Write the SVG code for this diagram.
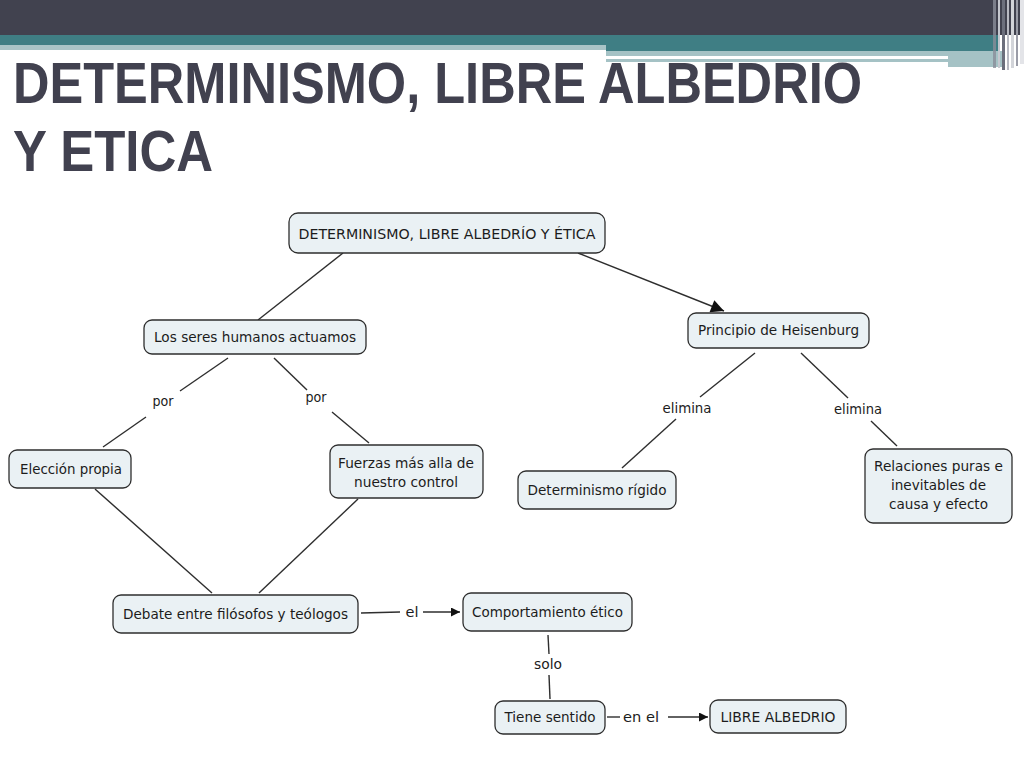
<svg xmlns="http://www.w3.org/2000/svg" width="1024" height="768" viewBox="0 0 1024 768">
<defs>
<style>
.node rect{fill:#eaf1f4;stroke:#2e2e2e;stroke-width:1.3}
.node text,.lbl{font-family:"DejaVu Sans","Liberation Sans",sans-serif;font-size:14px;fill:#1c1c1c;text-anchor:middle}
.conn line{stroke:#2e2e2e;stroke-width:1.4}
.title{font-family:"Liberation Sans","DejaVu Sans",sans-serif;font-weight:bold;font-size:57px;fill:#41414f}
</style>
<marker id="arr" viewBox="0 0 10 10" refX="10" refY="5" markerWidth="9" markerHeight="9" markerUnits="userSpaceOnUse" orient="auto">
<path d="M0,0 L10,5 L0,10 z" fill="#111"/>
</marker>
<marker id="arr2" viewBox="0 0 10 10" refX="10" refY="5" markerWidth="14" markerHeight="13" markerUnits="userSpaceOnUse" orient="auto">
<path d="M0,0 L10,5 L0,10 z" fill="#111"/>
</marker>
</defs>
<rect width="1024" height="768" fill="#ffffff"/>
<g id="header">
<rect x="0" y="0" width="1024" height="35" fill="#41424f"/>
<rect x="0" y="35" width="1000" height="11" fill="#3f7e84"/>
<rect x="0" y="45" width="606" height="5" fill="#a9c4c7"/>
<rect x="606" y="45" width="394" height="6" fill="#3f7e84"/>
<rect x="606" y="51" width="398" height="11" fill="#a5c2c5"/>
<rect x="948" y="62" width="56" height="5" fill="#a5c2c5"/>
<rect x="606" y="56" width="342" height="3" fill="#ffffff"/>
<rect x="993" y="0" width="3" height="68" fill="#8a8d99" opacity="0.8"/>
<rect x="998" y="0" width="2" height="68" fill="#c6c8cf"/>
<rect x="1002" y="0" width="3" height="70" fill="#6c6f7c"/>
<rect x="1007" y="0" width="2" height="70" fill="#b8bac2"/>
<rect x="1011" y="0" width="3" height="68" fill="#d2d4d9"/>
<rect x="1016" y="0" width="2" height="66" fill="#9a9ca7"/>
<rect x="1020" y="0" width="4" height="64" fill="#e3e4e8"/>
</g>
<g id="title">
<text class="title" x="13" y="103" textLength="849" lengthAdjust="spacingAndGlyphs">DETERMINISMO, LIBRE ALBEDRIO</text>
<text class="title" x="13" y="171" textLength="200" lengthAdjust="spacingAndGlyphs">Y ETICA</text>
</g>
<g id="connectors" class="conn">
<line x1="343" y1="253" x2="258" y2="320"/>
<line x1="578" y1="253" x2="724" y2="311" marker-end="url(#arr2)"/>
<line x1="228" y1="358" x2="180" y2="391"/>
<line x1="146" y1="417" x2="103" y2="447"/>
<line x1="274" y1="358" x2="307" y2="390"/>
<line x1="332" y1="412" x2="369" y2="443"/>
<line x1="755" y1="353" x2="700" y2="397"/>
<line x1="676" y1="419" x2="622" y2="468"/>
<line x1="801" y1="353" x2="848" y2="398"/>
<line x1="871" y1="421" x2="897" y2="446"/>
<line x1="95" y1="489" x2="212" y2="593"/>
<line x1="358" y1="499" x2="259" y2="593"/>
<line x1="361" y1="613" x2="400" y2="612"/>
<line x1="423" y1="612" x2="460" y2="612" marker-end="url(#arr)"/>
<line x1="548" y1="635" x2="549" y2="654"/>
<line x1="549" y1="675" x2="550" y2="699"/>
<line x1="607" y1="717" x2="620" y2="717"/>
<line x1="668" y1="717" x2="708" y2="717" marker-end="url(#arr)"/>
<text class="lbl" x="163" y="406" textLength="21" lengthAdjust="spacingAndGlyphs">por</text>
<text class="lbl" x="316" y="402" textLength="21" lengthAdjust="spacingAndGlyphs">por</text>
<text class="lbl" x="687" y="413" textLength="49" lengthAdjust="spacingAndGlyphs">elimina</text>
<text class="lbl" x="858" y="414" textLength="48" lengthAdjust="spacingAndGlyphs">elimina</text>
<text class="lbl" x="412" y="617" textLength="13" lengthAdjust="spacingAndGlyphs">el</text>
<text class="lbl" x="548" y="669" textLength="28" lengthAdjust="spacingAndGlyphs">solo</text>
<text class="lbl" x="641" y="722" textLength="36" lengthAdjust="spacingAndGlyphs">en el</text>
</g>
<g id="n-root" class="node">
<rect x="289" y="213" width="316" height="40" rx="9"/>
<text x="447" y="239" textLength="297" lengthAdjust="spacingAndGlyphs">DETERMINISMO, LIBRE ALBEDRÍO Y ÉTICA</text>
</g>
<g id="n-seres" class="node">
<rect x="144" y="320" width="222" height="34" rx="8"/>
<text x="255" y="342" textLength="202" lengthAdjust="spacingAndGlyphs">Los seres humanos actuamos</text>
</g>
<g id="n-heisenburg" class="node">
<rect x="688" y="313" width="181" height="35" rx="8"/>
<text x="778.5" y="335" textLength="161" lengthAdjust="spacingAndGlyphs">Principio de Heisenburg</text>
</g>
<g id="n-eleccion" class="node">
<rect x="9" y="450" width="122" height="38" rx="8"/>
<text x="71" y="474" textLength="102" lengthAdjust="spacingAndGlyphs">Elección propia</text>
</g>
<g id="n-fuerzas" class="node">
<rect x="330" y="445" width="153" height="53" rx="8"/>
<text x="406" y="468" textLength="136" lengthAdjust="spacingAndGlyphs">Fuerzas más alla de</text>
<text x="406" y="487" textLength="104" lengthAdjust="spacingAndGlyphs">nuestro control</text>
</g>
<g id="n-rigido" class="node">
<rect x="518" y="471" width="158" height="38" rx="8"/>
<text x="597" y="495" textLength="139" lengthAdjust="spacingAndGlyphs">Determinismo rígido</text>
</g>
<g id="n-relaciones" class="node">
<rect x="865" y="449" width="147" height="74" rx="8"/>
<text x="938.5" y="471" textLength="129" lengthAdjust="spacingAndGlyphs">Relaciones puras e</text>
<text x="938.5" y="490" textLength="95" lengthAdjust="spacingAndGlyphs">inevitables de</text>
<text x="938.5" y="509" textLength="99" lengthAdjust="spacingAndGlyphs">causa y efecto</text>
</g>
<g id="n-debate" class="node">
<rect x="113" y="595" width="245" height="38" rx="8"/>
<text x="235.5" y="619" textLength="225" lengthAdjust="spacingAndGlyphs">Debate entre filósofos y teólogos</text>
</g>
<g id="n-comportamiento" class="node">
<rect x="463" y="593" width="169" height="38" rx="8"/>
<text x="547.5" y="617" textLength="151" lengthAdjust="spacingAndGlyphs">Comportamiento ético</text>
</g>
<g id="n-tiene" class="node">
<rect x="495" y="701" width="110" height="33" rx="8"/>
<text x="550" y="722" textLength="91" lengthAdjust="spacingAndGlyphs">Tiene sentido</text>
</g>
<g id="n-libre" class="node">
<rect x="710" y="700" width="136" height="33" rx="8"/>
<text x="778" y="722" textLength="115" lengthAdjust="spacingAndGlyphs">LIBRE ALBEDRIO</text>
</g>
</svg>
